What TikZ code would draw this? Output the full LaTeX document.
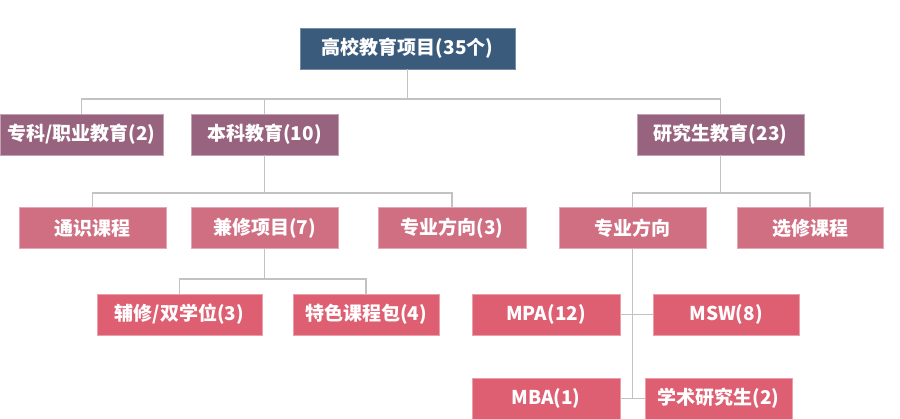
\documentclass[tikz,border=0pt]{standalone}
\usepackage{fontspec}
\newfontfamily\cjk{Noto Sans CJK SC}
\definecolor{rootc}{HTML}{3A5B7B}
\definecolor{lvone}{HTML}{98637F}
\definecolor{lvtwo}{HTML}{D06E82}
\definecolor{lvthree}{HTML}{DE5F72}
\definecolor{linec}{HTML}{C2C2C2}
\begin{document}
\begin{tikzpicture}[x=1pt,y=-1pt,
  box/.style={rectangle, inner sep=0pt, minimum height=41pt, text=white,
    font=\cjk\bfseries\fontsize{19}{22}\selectfont, line width=0.8pt},
  rootbox/.style={box, fill=rootc, draw=rootc!70!white},
  onebox/.style={box, fill=lvone, draw=lvone!60!white},
  twobox/.style={box, fill=lvtwo, draw=lvtwo!60!white},
  threebox/.style={box, fill=lvthree, draw=lvthree!60!white},
  conn/.style={draw=linec, line width=1.6pt}]
\useasboundingbox (0,0) rectangle (900,418);
% nodes
\node[rootbox, minimum width=215pt] (root) at (407.5,48.5) {高校教育项目(35个)};
\node[onebox, minimum width=163pt] (zk) at (81.5,134.5) {专科/职业教育(2)};
\node[onebox, minimum width=147pt] (bk) at (264.5,134.5) {本科教育(10)};
\node[onebox, minimum width=167pt] (yj) at (720.5,134.5) {研究生教育(23)};
\node[twobox, minimum width=147pt] (tk) at (92.5,228) {通识课程};
\node[twobox, minimum width=147pt] (jx) at (264.5,228) {兼修项目(7)};
\node[twobox, minimum width=148pt] (zfa) at (452,228) {专业方向(3)};
\node[twobox, minimum width=147pt] (zfb) at (632.5,228) {专业方向};
\node[twobox, minimum width=146pt] (xx) at (810,228) {选修课程};
\node[threebox, minimum width=165pt] (fx) at (179.5,314.5) {辅修/双学位(3)};
\node[threebox, minimum width=146pt] (ts) at (366,314.5) {特色课程包(4)};
\node[threebox, minimum width=148pt] (mpa) at (546,314.5) {MPA(12)};
\node[threebox, minimum width=146pt] (msw) at (726,314.5) {MSW(8)};
\node[threebox, minimum width=148pt] (mba) at (546,398.5) {MBA(1)};
\node[threebox, minimum width=147pt] (xs) at (718.5,398.5) {学术研究生(2)};
% bus coordinates
\coordinate (b1) at (407.5,99);
\coordinate (b2) at (264.5,193);
\coordinate (b3) at (720.5,193);
\coordinate (b4) at (264.5,279);
\coordinate (b5) at (632.5,398.5);
% connectors
\path[conn] (root.south) -- (b1);
\path[conn] (zk.north) |- (b1);
\path[conn] (bk.north) |- (b1);
\path[conn] (yj.north) |- (b1);
\path[conn] (bk.south) -- (b2);
\path[conn] (tk.north) |- (b2);
\path[conn] (zfa.north) |- (b2);
\path[conn] (yj.south) -- (b3);
\path[conn] (zfb.north) |- (b3);
\path[conn] (xx.north) |- (b3);
\path[conn] (jx.south) -- (b4);
\path[conn] (fx.north) |- (b4);
\path[conn] (ts.north) |- (b4);
\path[conn] (zfb.south) -- (b5);
\path[conn] (mpa.east) -- (msw.west);
\path[conn] (mba.east) -- (xs.west);
\end{tikzpicture}
\end{document}
